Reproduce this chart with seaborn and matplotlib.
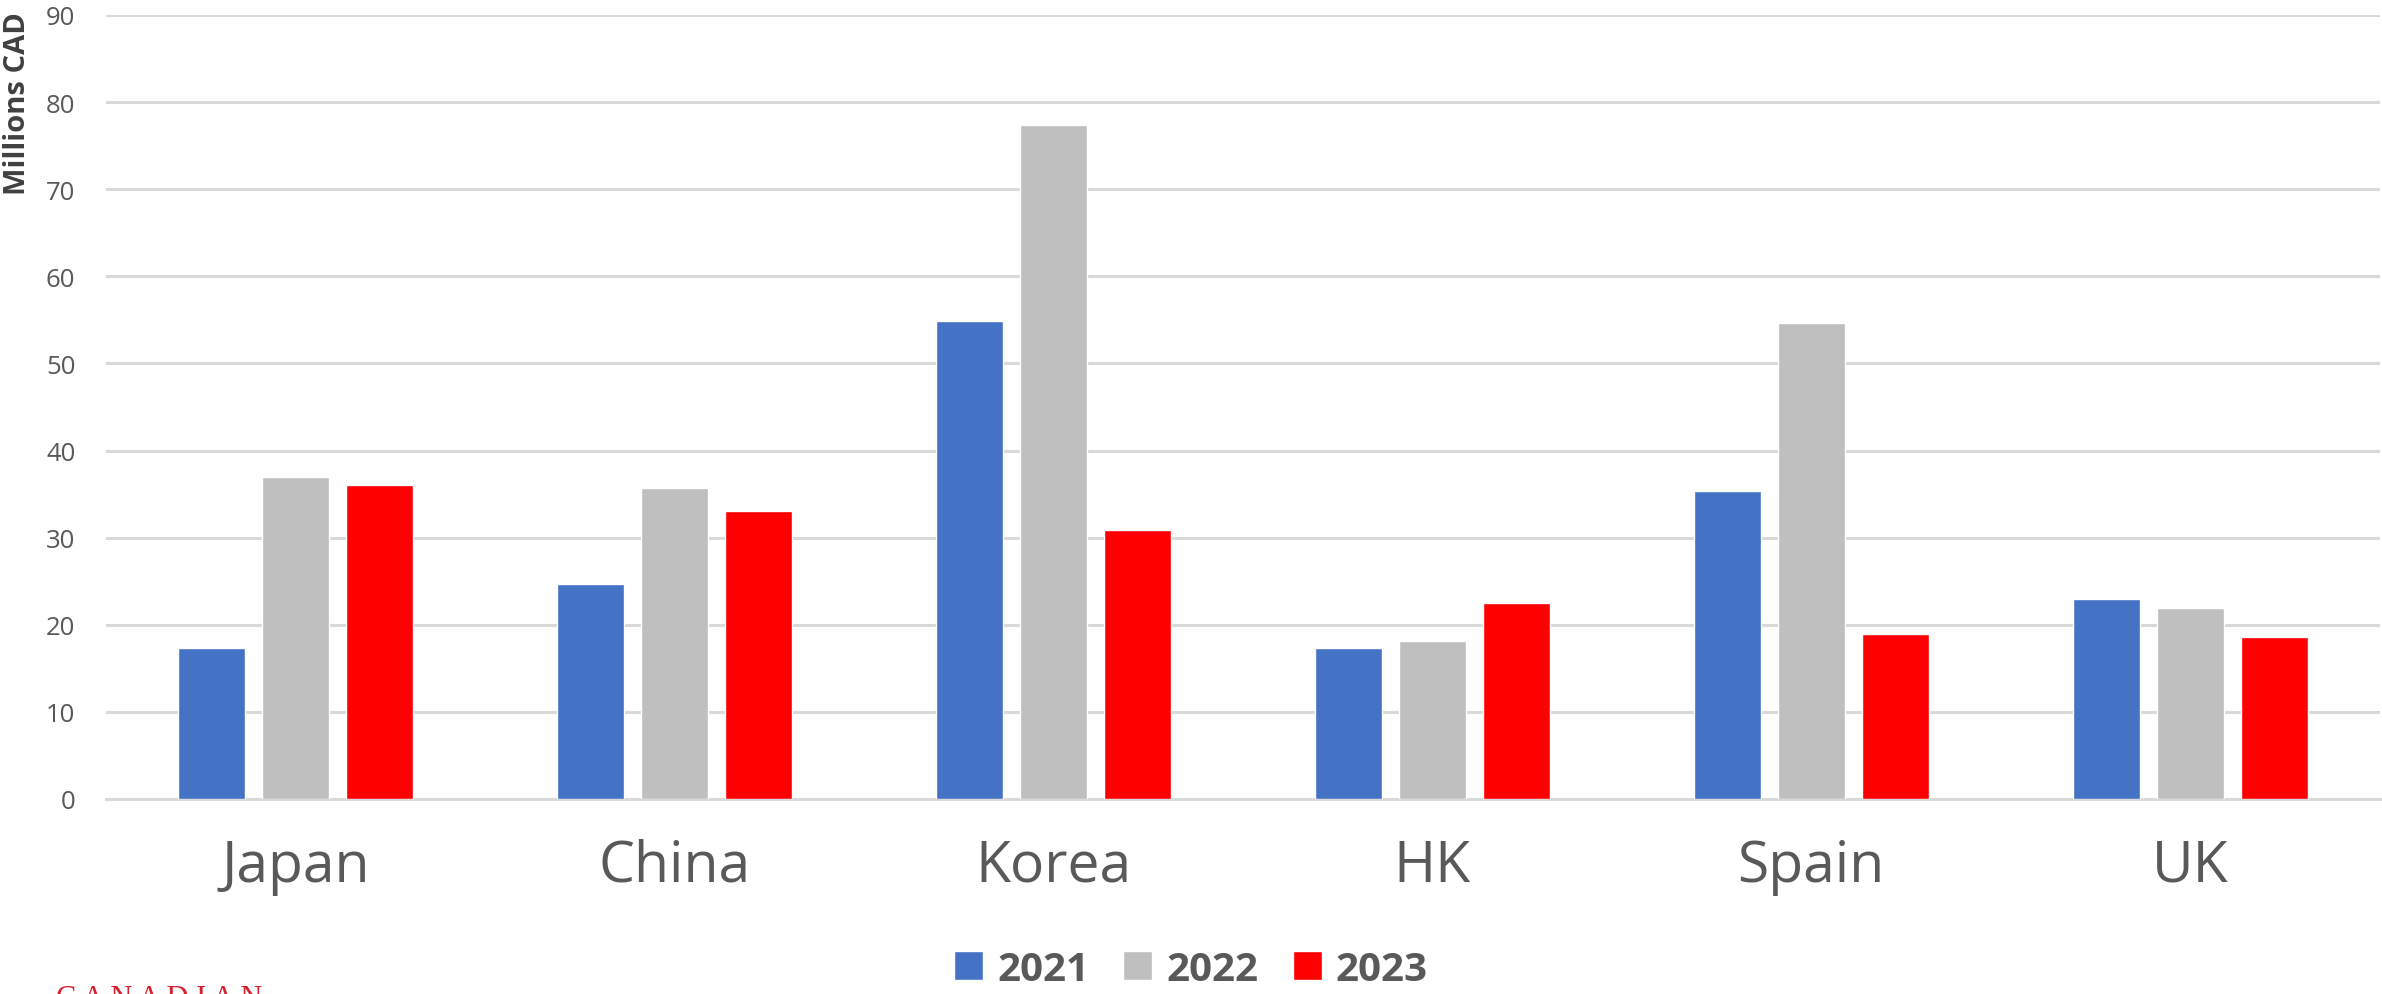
import matplotlib
matplotlib.use("Agg")
import matplotlib.pyplot as plt
import pandas as pd
import seaborn as sns

countries = ["Japan", "China", "Korea", "HK", "Spain", "UK"]
years = ["2021", "2022", "2023"]
values_2021 = [17.3, 24.7, 54.9, 17.3, 35.4, 23.0]
values_2022 = [37.0, 35.7, 77.4, 18.1, 54.6, 21.9]
values_2023 = [36.0, 33.0, 30.9, 22.5, 18.9, 18.6]
colors = ["#4472C4", "#BFBFBF", "#FF0000"]
y_ticks = [0, 10, 20, 30, 40, 50, 60, 70, 80, 90]


def main():
    df = pd.DataFrame({
        "Country": countries * 3,
        "Year": [y for y in years for _ in countries],
        "Value": values_2021 + values_2022 + values_2023,
    })

    sns.set_style("white")
    plt.rcParams["font.family"] = ["Open Sans", "DejaVu Sans"]

    fig = plt.figure(figsize=(23.82, 9.95), dpi=100)
    ax = fig.add_axes([0.0445, 0.196, 0.9545, 0.788])

    sns.barplot(
        data=df, x="Country", y="Value", hue="Year",
        order=countries, hue_order=years, palette=colors,
        width=0.665, gap=0.2, saturation=1, errorbar=None,
        ax=ax, zorder=3,
    )

    ax.set_ylim(0, 90)
    ax.set_xlim(-0.5, 5.5)
    ax.set_yticks(y_ticks)
    ax.yaxis.grid(True, color="#D9D9D9", linewidth=2.2, zorder=0)
    ax.set_axisbelow(True)
    for side in ["top", "right", "left"]:
        ax.spines[side].set_visible(False)
    ax.spines["bottom"].set_color("#D9D9D9")
    ax.spines["bottom"].set_linewidth(2.2)

    ax.set_xlabel("")
    ax.set_ylabel("")
    ax.tick_params(axis="x", length=0, pad=28, labelsize=41, labelcolor="#595959")
    ax.tick_params(axis="y", length=0, pad=22, labelsize=18.5, labelcolor="#595959")

    fig.text(0.0075, 0.896, "Millions CAD", rotation=90, ha="center", va="center",
             fontsize=21, fontweight="bold", color="#404040")

    handles, labels = ax.get_legend_handles_labels()
    ax.legend_.remove()
    leg = fig.legend(
        handles, labels, loc="center", bbox_to_anchor=(0.5, 0.025), ncol=3,
        frameon=False, handlelength=0.72, handleheight=0.72,
        handletextpad=0.35, columnspacing=0.85,
        prop={"size": 29, "weight": "bold"},
    )
    for text in leg.get_texts():
        text.set_color("#595959")

    # logo text, cut off at the bottom edge as in the source
    fig.text(0.0235, 0.010, "C A N A D I A N", ha="left", va="top",
             fontsize=22, family="Liberation Serif", color="#D7202E")

    fig.savefig("out.png", dpi=100)


if __name__ == "__main__":
    main()
